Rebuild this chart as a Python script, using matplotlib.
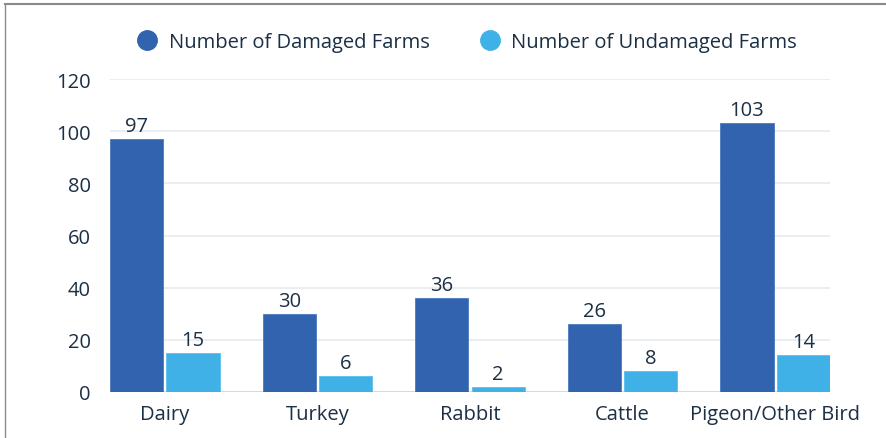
import matplotlib
matplotlib.use("Agg")
import matplotlib.pyplot as plt
import numpy as np
from matplotlib.lines import Line2D

categories = ["Dairy", "Turkey", "Rabbit", "Cattle", "Pigeon/Other Bird"]
damaged = [97, 30, 36, 26, 103]
undamaged = [15, 6, 2, 8, 14]
series_names = ["Number of Damaged Farms", "Number of Undamaged Farms"]
yticks = [0, 20, 40, 60, 80, 100, 120]

dark = "#3163AF"
light = "#40B1E6"
txt = "#1B2F45"
fs = 14.5

plt.rcParams['font.family'] = ['Open Sans', 'DejaVu Sans']

fig = plt.figure(figsize=(8.87, 4.39), dpi=100)
W, H = 887, 439
ax = fig.add_axes([110 / W, (H - 393) / H, 720 / W, 313 / H])

x = np.arange(len(categories))
bw = 0.35
gap = 0.01
b1 = ax.bar(x - bw / 2 - gap, damaged, bw, color=dark, edgecolor="#4A78C0", linewidth=0.6, zorder=3)
b2 = ax.bar(x + bw / 2 + gap, undamaged, bw, color=light, edgecolor="#5CC0EE", linewidth=0.6, zorder=3)

for bars, vals in ((b1, damaged), (b2, undamaged)):
    for r, v in zip(bars, vals):
        ax.text(r.get_x() + r.get_width() / 2, v + 1.2, str(v), ha="center", va="bottom",
                fontsize=fs, color=txt, zorder=4)

ax.set_xlim(-0.36, len(categories) - 1 + 0.36)
ax.set_ylim(0, 120)
ax.set_yticks(yticks)
ax.set_yticklabels([str(t) for t in yticks], fontsize=fs, color=txt)
ax.set_xticks(x)
ax.set_xticklabels(categories, fontsize=fs, color=txt)
ax.tick_params(axis="both", length=0)
ax.tick_params(axis="y", pad=14)
ax.tick_params(axis="x", pad=9)
for s in ax.spines.values():
    s.set_visible(False)
ax.grid(axis="y", color="#E6EAEF", linewidth=1.2, zorder=0)
ax.axhline(0, color="#D5DAE0", linewidth=1.5, zorder=2)
ax.set_axisbelow(True)

handles = [Line2D([], [], marker="o", linestyle="", markersize=14, color=c) for c in (dark, light)]
fig.legend(handles, series_names, loc="center", bbox_to_anchor=(466 / W, 1 - 43 / H),
           ncol=2, frameon=False, fontsize=fs, labelcolor=txt, handletextpad=0.45,
           columnspacing=2.4, handlelength=1.2)

# border lines (top and left)
fig.add_artist(Line2D([5 / W, 1], [1 - 5 / H, 1 - 5 / H], color="#8A8A8A", linewidth=1.5))
fig.add_artist(Line2D([5 / W, 5 / W], [0, 1 - 5 / H], color="#8A8A8A", linewidth=1.0))

fig.savefig("out.png", dpi=100, facecolor="white")
